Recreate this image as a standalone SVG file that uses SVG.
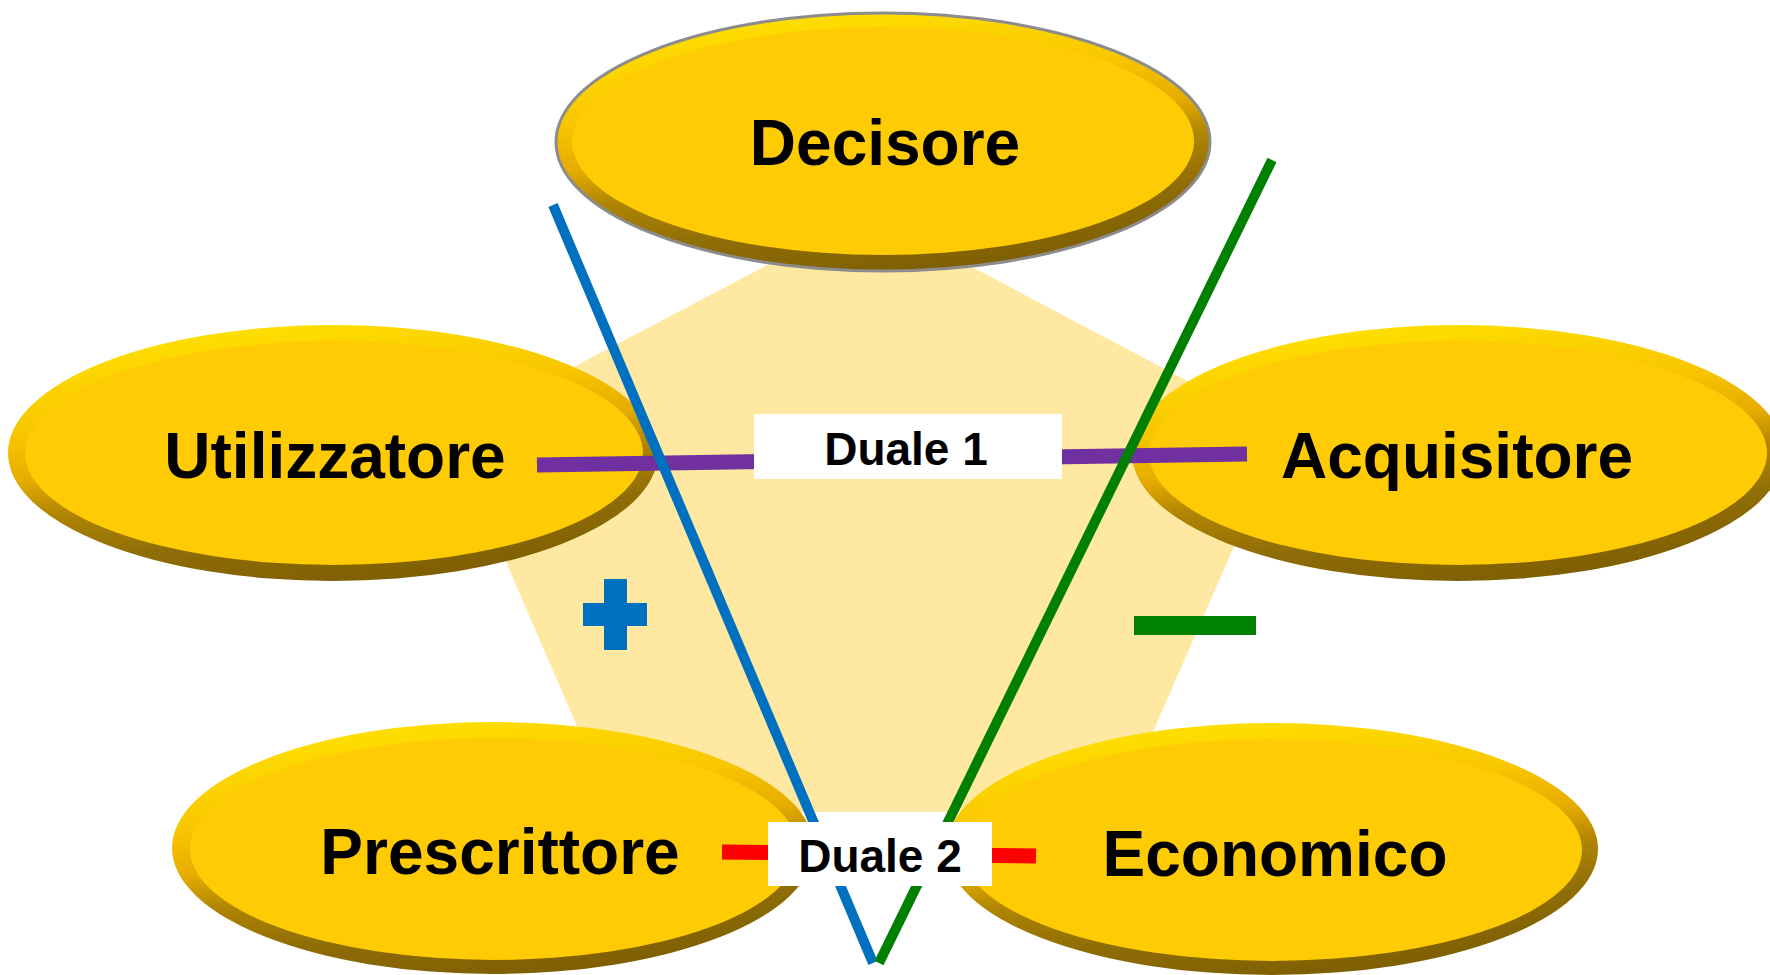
<svg xmlns="http://www.w3.org/2000/svg" width="1770" height="975" viewBox="0 0 1770 975">
  <defs>
    <linearGradient id="bevel" x1="0.35" y1="0" x2="0.65" y2="1">
      <stop offset="0" stop-color="#FFE000"/>
      <stop offset="0.3" stop-color="#F8C600"/>
      <stop offset="0.47" stop-color="#E6AC00"/>
      <stop offset="0.6" stop-color="#B08502"/>
      <stop offset="0.78" stop-color="#8F6D07"/>
      <stop offset="1" stop-color="#7C5D00"/>
    </linearGradient>
    <style>
      .rim { fill: url(#bevel); }
      .face { fill: #FECB04; }
      .name { font-family: "Liberation Sans", Arial, sans-serif; font-weight: bold; font-size: 64px; fill: #000; text-anchor: middle; }
      .tag { font-family: "Liberation Sans", Arial, sans-serif; font-weight: bold; font-size: 46px; fill: #000; text-anchor: middle; }
      .box { fill: #FFFFFF; }
      .link { fill: none; stroke-linecap: butt; }
    </style>
  </defs>

  <rect width="1770" height="975" fill="#FFFFFF"/>

  <!-- pale pentagon behind the roles -->
  <polygon id="backdrop" points="868,212 450,432 614,812 1118,812 1284,432" fill="#FFE8A2"/>

  <!-- role nodes -->
  <g id="decisore">
    <ellipse class="rim" cx="883" cy="142" rx="327" ry="129" stroke="#8C8C8C" stroke-width="3"/>
    <ellipse class="face" cx="883" cy="141" rx="311" ry="114"/>
    <text class="name" x="885" y="165">Decisore</text>
  </g>
  <g id="utilizzatore">
    <ellipse class="rim" cx="333" cy="453" rx="325" ry="128"/>
    <ellipse class="face" cx="334" cy="453" rx="309" ry="112"/>
    <text class="name" x="335" y="478">Utilizzatore</text>
  </g>
  <g id="acquisitore">
    <ellipse class="rim" cx="1458" cy="453" rx="326" ry="128"/>
    <ellipse class="face" cx="1458" cy="453" rx="309" ry="112"/>
    <text class="name" x="1457" y="478">Acquisitore</text>
  </g>
  <g id="prescrittore">
    <ellipse class="rim" cx="493" cy="848" rx="321" ry="126"/>
    <ellipse class="face" cx="494" cy="849" rx="304" ry="111"/>
    <text class="name" x="500" y="874">Prescrittore</text>
  </g>
  <g id="economico">
    <ellipse class="rim" cx="1272" cy="849" rx="326" ry="126"/>
    <ellipse class="face" cx="1272" cy="850" rx="310" ry="111"/>
    <text class="name" x="1275" y="876">Economico</text>
  </g>

  <!-- connectors -->
  <g id="connectors">
    <line class="link" x1="537" y1="465" x2="1247" y2="454" stroke="#7030A0" stroke-width="15"/>
    <line class="link" x1="722" y1="852" x2="1036" y2="856" stroke="#FF0000" stroke-width="15"/>
    <line class="link" x1="553" y1="205" x2="873" y2="963" stroke="#0070C0" stroke-width="10"/>
    <line class="link" x1="1272" y1="160" x2="879" y2="963" stroke="#008000" stroke-width="10"/>
  </g>

  <!-- plus / minus signs -->
  <g id="plus" fill="#0070C0">
    <rect x="604" y="579" width="23" height="71"/>
    <rect x="583" y="603" width="64" height="23"/>
  </g>
  <rect id="minus" x="1134" y="616" width="122" height="19" fill="#008000"/>

  <!-- dual labels -->
  <g id="duale1">
    <rect class="box" x="754" y="414" width="308" height="65"/>
    <text class="tag" x="906" y="465">Duale 1</text>
  </g>
  <g id="duale2">
    <rect class="box" x="768" y="822" width="224" height="64"/>
    <text class="tag" x="880" y="872">Duale 2</text>
  </g>
</svg>
